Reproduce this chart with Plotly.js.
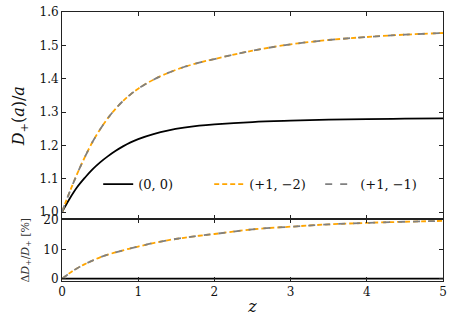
<!DOCTYPE html>
<html>
<head>
<meta charset="utf-8">
<script src="https://cdn.plot.ly/plotly-3.0.1.min.js"></script>
<style>
  html, body { margin: 0; padding: 0; background: #fff; }
  #chart { width: 453px; height: 323px; }
</style>
</head>
<body>
<div id="chart"></div>
<script>
// ===== data =====
const zGrid = [0, 0.1, 0.2, 0.3, 0.4, 0.5, 0.6, 0.7, 0.8, 0.9, 1.0, 1.2, 1.4, 1.6, 1.8, 2.0, 2.5, 3, 3.5, 4, 4.5, 5];

// D+(a)/a
const growthLCDM = [1.0, 1.040, 1.075, 1.103, 1.128, 1.149, 1.167, 1.183, 1.197, 1.209, 1.219, 1.234, 1.245, 1.253, 1.259, 1.263, 1.270, 1.274, 1.277, 1.279, 1.280, 1.281];
const growthP1M2 = [1.0, 1.060, 1.115, 1.165, 1.210, 1.248, 1.281, 1.309, 1.333, 1.353, 1.370, 1.397, 1.418, 1.435, 1.448, 1.459, 1.484, 1.503, 1.516, 1.525, 1.532, 1.537];
const growthP1M1 = [1.0, 1.060, 1.115, 1.165, 1.210, 1.248, 1.281, 1.309, 1.333, 1.353, 1.370, 1.397, 1.418, 1.435, 1.448, 1.459, 1.484, 1.503, 1.516, 1.525, 1.532, 1.537];

// ΔD+/D+ in percent
const deltaLCDM = [0, 0, 0, 0, 0, 0, 0, 0, 0, 0, 0, 0, 0, 0, 0, 0, 0, 0, 0, 0, 0, 0];
const deltaP1M2 = [0, 1.9, 3.6, 5.0, 6.2, 7.3, 8.2, 9.0, 9.7, 10.4, 11.0, 12.2, 13.2, 14.0, 14.7, 15.3, 16.9, 17.8, 18.6, 19.1, 19.5, 19.8];
const deltaP1M1 = [0, 1.9, 3.6, 5.0, 6.2, 7.3, 8.2, 9.0, 9.7, 10.4, 11.0, 12.2, 13.2, 14.0, 14.7, 15.3, 16.9, 17.8, 18.6, 19.1, 19.5, 19.8];

const seriesNames = ["(0, 0)", "(+1, −2)", "(+1, −1)"];

// ===== styles =====
const FONT = "DejaVu Serif";
const INK = "#111";
const STYLE = [
  { color: "#000000", width: 1.8, dash: "solid" },
  { color: "#ffa500", width: 1.8, dash: "5px,3px" },
  { color: "#808080", width: 1.8, dash: "7px,8px" }
];

function axisCommon(extra) {
  return Object.assign({
    showline: true, linecolor: "#222", linewidth: 1,
    mirror: "ticks", ticks: "inside", ticklen: 4, tickcolor: "#222",
    showgrid: false, zeroline: false,
    tickfont: { family: FONT, size: 12, color: INK }
  }, extra);
}

const topSets = [growthLCDM, growthP1M2, growthP1M1];
const botSets = [deltaLCDM, deltaP1M2, deltaP1M1];

const traces = [];
topSets.forEach((ys, i) => {
  traces.push({
    x: zGrid, y: ys, xaxis: "x", yaxis: "y", type: "scatter", mode: "lines",
    line: Object.assign({ shape: "spline", smoothing: 1 }, STYLE[i]),
    name: seriesNames[i], showlegend: true, hoverinfo: "skip"
  });
});
botSets.forEach((ys, i) => {
  traces.push({
    x: zGrid, y: ys, xaxis: "x2", yaxis: "y2", type: "scatter", mode: "lines",
    line: Object.assign({ shape: "spline", smoothing: 1 }, STYLE[i]),
    name: seriesNames[i], showlegend: false, hoverinfo: "skip"
  });
});

const layout = {
  width: 453, height: 323,
  margin: { l: 62, r: 10, t: 12, b: 42 },
  paper_bgcolor: "#fff", plot_bgcolor: "#fff",
  font: { family: FONT, color: INK },
  showlegend: true,
  legend: {
    orientation: "h", x: 0.095, y: 0.36, xanchor: "left", yanchor: "middle",
    bgcolor: "rgba(0,0,0,0)", borderwidth: 0,
    entrywidth: 66, entrywidthmode: "pixels",
    font: { family: FONT, size: 13, color: INK }
  },
  xaxis: axisCommon({
    domain: [0, 1], anchor: "y", range: [0, 5], dtick: 1, tick0: 0,
    matches: "x2", showticklabels: false
  }),
  yaxis: axisCommon({
    domain: [0.229, 1], anchor: "x", range: [0.978, 1.6], dtick: 0.1, tick0: 1.0,
    tickformat: ".1f",
    title: { text: "<i>D</i><sub>+</sub>(<i>a</i>)/<i>a</i>", font: { family: FONT, size: 16, color: INK }, standoff: 10 }
  }),
  xaxis2: axisCommon({
    domain: [0, 1], anchor: "y2", range: [0, 5], dtick: 1, tick0: 0,
    title: { text: "<i>z</i>", font: { family: FONT, size: 16, color: INK }, standoff: 2 }
  }),
  yaxis2: axisCommon({
    domain: [0, 0.229], anchor: "x2", range: [-0.8, 20.3], dtick: 10, tick0: 0,
    title: { text: "Δ<i>D</i><sub>+</sub>/<i>D</i><sub>+</sub> [%]", font: { family: FONT, size: 11, color: "#333" }, standoff: 11 }
  })
};

Plotly.newPlot("chart", traces, layout, { displayModeBar: false, staticPlot: true });
</script>
</body>
</html>
